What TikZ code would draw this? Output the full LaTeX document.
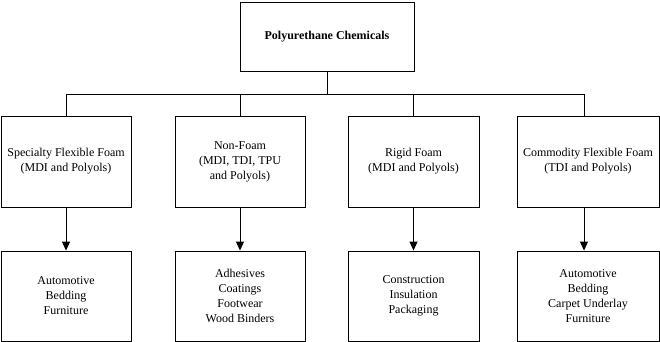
\documentclass[tikz,border=0pt]{standalone}
\usepackage{fontspec}
\setmainfont{Liberation Serif}
\usepackage{tikz}
\usetikzlibrary{arrows.meta, positioning, calc}

\begin{document}
\begin{tikzpicture}[
      x=1pt, y=1pt,
      box/.style={rectangle, draw=black, line width=0.9pt, align=center, inner sep=2pt, font=\fontsize{12}{15}\selectfont},
      link/.style={draw=black, line width=0.9pt},
      arr/.style={link, -{Triangle[width=8pt, length=9pt]}},
    ]
    \useasboundingbox (0, 0) rectangle (660, -342);

    % Top box: the whole family of chemicals
    \node[box, minimum width=174pt, minimum height=69pt, font=\fontsize{12}{15}\selectfont\bfseries] (top) at (327, -36.5) {Polyurethane Chemicals};

    % Middle row: the four market segments
    \node[box, minimum width=130pt, minimum height=91pt] (spec) at (66, -161.5) {Specialty Flexible Foam\\(MDI and Polyols)};
    \node[box, minimum width=130pt, minimum height=91pt] (nonfoam) at (240, -161.5) {Non-Foam\\(MDI, TDI, TPU\\and Polyols)};
    \node[box, minimum width=131pt, minimum height=91pt] (rigid) at (413.5, -161.5) {Rigid Foam\\(MDI and Polyols)};
    \node[box, minimum width=142pt, minimum height=91pt] (comm) at (588, -161.5) {Commodity Flexible Foam\\(TDI and Polyols)};

    % Bottom row: end uses
    \node[box, minimum width=130pt, minimum height=90pt] (specuse) at (66, -296) {Automotive\\Bedding\\Furniture};
    \node[box, minimum width=130pt, minimum height=90pt] (nonfoamuse) at (240, -296) {Adhesives\\Coatings\\Footwear\\Wood Binders};
    \node[box, minimum width=131pt, minimum height=90pt] (rigiduse) at (413.5, -296) {Construction\\Insulation\\Packaging};
    \node[box, minimum width=142pt, minimum height=90pt] (commuse) at (588, -296) {Automotive\\Bedding\\Carpet Underlay\\Furniture};

    % Tree lines from the top box to the segments
    \coordinate (bus) at (327, -94);
    \coordinate (commtop) at ([xshift=-4pt]comm.north);
    \draw[link] (top.south) -- (top.south |- bus);
    \draw[link] (spec.north) -- (spec.north |- bus) -- (commtop |- bus) -- (commtop);
    \draw[link] (nonfoam.north) -- (nonfoam.north |- bus);
    \draw[link] (rigid.north) -- (rigid.north |- bus);

    % Arrows down to the end uses
    \draw[arr] (spec.south) -- (specuse.north);
    \draw[arr] (nonfoam.south) -- (nonfoamuse.north);
    \draw[arr] (rigid.south) -- (rigiduse.north);
    \draw[arr] ([xshift=-4pt]comm.south) -- ([xshift=-4pt]commuse.north);
  \end{tikzpicture}
\end{document}
